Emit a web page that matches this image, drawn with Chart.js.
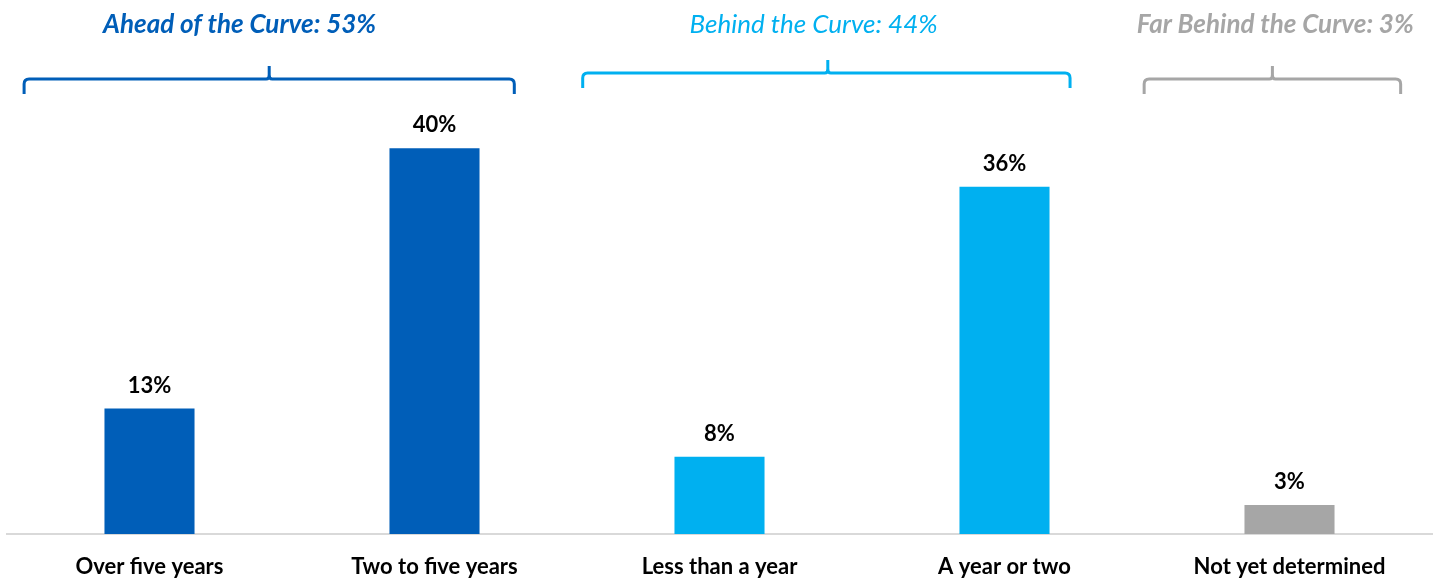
<!DOCTYPE html>
<html>
<head>
<meta charset="utf-8">
<script src="https://cdn.jsdelivr.net/npm/chart.js@4"></script>
<style>
  html, body { margin: 0; padding: 0; background: #fff; }
  #wrap { width: 1439px; height: 580px; }
</style>
</head>
<body>
<div id="wrap"><canvas id="chart"></canvas></div>
<script>
const categories = ['Over five years', 'Two to five years', 'Less than a year', 'A year or two', 'Not yet determined'];
const values = [13, 40, 8, 36, 3];
const barColors = ['#005EB8', '#005EB8', '#00B0F0', '#00B0F0', '#A6A6A6'];

// group brackets above the bars, positions in category units
const groupTitles = ['Ahead of the Curve: 53%', 'Behind the Curve: 44%', 'Far Behind the Curve: 3%'];
const groupFrom = [-0.44, 1.52, 3.49];
const groupTo = [1.28, 3.23, 4.39];
const groupMid = [0.42, 2.38, 3.94];
const groupTitleAt = [0.316, 2.33, 3.95];
const groupColors = ['#005EB8', '#00B0F0', '#A6A6A6'];
const groupWeights = ['bold', 'normal', 'bold'];

const FONT = 'Lato, "Open Sans", sans-serif';

const valueLabels = {
  id: 'valueLabels',
  afterDatasetsDraw(chart) {
    const ctx = chart.ctx;
    const meta = chart.getDatasetMeta(0);
    ctx.save();
    ctx.font = 'bold 22px ' + FONT;
    ctx.fillStyle = '#000';
    ctx.textAlign = 'center';
    ctx.textBaseline = 'alphabetic';
    meta.data.forEach((bar, i) => {
      ctx.fillText(values[i] + '%', bar.x, bar.y - 16);
    });
    ctx.restore();
  }
};

const brackets = {
  id: 'brackets',
  afterDraw(chart) {
    const ctx = chart.ctx;
    const x = chart.scales.x;
    const lineY = [79, 73, 79];
    ctx.save();
    groupTitles.forEach((title, g) => {
      const x0 = x.getPixelForValue(groupFrom[g]);
      const x1 = x.getPixelForValue(groupTo[g]);
      const xm = x.getPixelForValue(groupMid[g]);
      const y = lineY[g];
      const r = 5;
      ctx.strokeStyle = groupColors[g];
      ctx.lineWidth = 3;
      ctx.beginPath();
      ctx.moveTo(x0, y + 15);
      ctx.lineTo(x0, y + r);
      ctx.quadraticCurveTo(x0, y, x0 + r, y);
      ctx.lineTo(xm - 3, y);
      ctx.quadraticCurveTo(xm, y, xm, y - 4);
      ctx.lineTo(xm, y - 13);
      ctx.moveTo(xm, y - 4);
      ctx.quadraticCurveTo(xm, y, xm + 3, y);
      ctx.lineTo(x1 - r, y);
      ctx.quadraticCurveTo(x1, y, x1, y + r);
      ctx.lineTo(x1, y + 15);
      ctx.stroke();

      ctx.font = 'italic ' + groupWeights[g] + ' 26px ' + FONT;
      ctx.fillStyle = groupColors[g];
      ctx.textAlign = 'center';
      ctx.textBaseline = 'alphabetic';
      ctx.fillText(title, x.getPixelForValue(groupTitleAt[g]), 33);
    });
    ctx.restore();
  }
};

new Chart(document.getElementById('chart'), {
  type: 'bar',
  data: {
    labels: categories,
    datasets: [
      {
        data: values,
        backgroundColor: barColors,
        borderWidth: 0,
        barPercentage: 0.316,
        categoryPercentage: 1
      }
    ]
  },
  options: {
    responsive: true,
    maintainAspectRatio: false,
    animation: false,
    layout: {
      padding: { top: 100, left: 7, right: 7, bottom: 0 }
    },
    scales: {
      x: {
        grid: { display: false },
        border: { display: true, color: '#D9D9D9', width: 2 },
        ticks: {
          color: '#000',
          padding: 12,
          font: { family: FONT, size: 22, weight: 'bold' }
        },
        afterFit(scale) {
          scale.height = 46;
        }
      },
      y: {
        display: false,
        min: 0,
        max: 45
      }
    },
    plugins: {
      legend: { display: false },
      tooltip: { enabled: false }
    }
  },
  plugins: [valueLabels, brackets]
});
</script>
</body>
</html>
